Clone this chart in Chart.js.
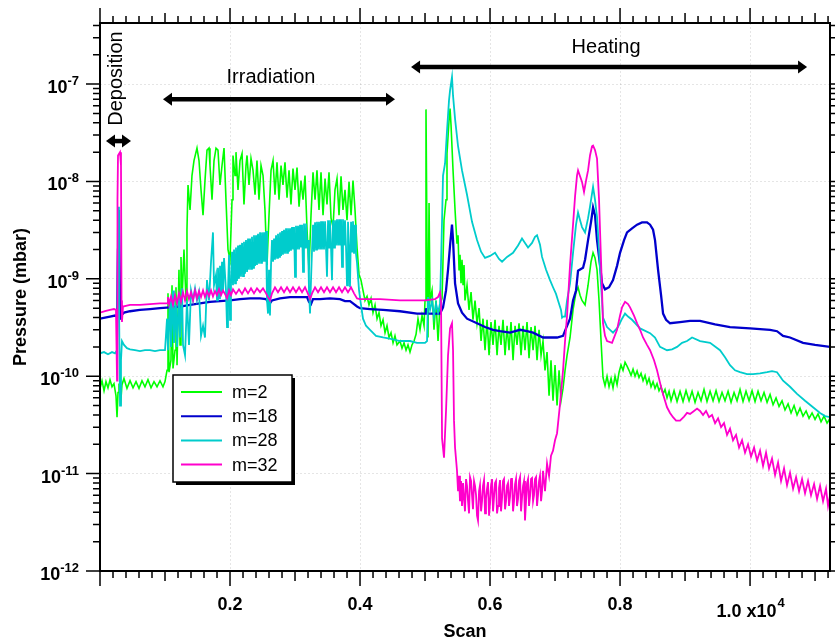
<!DOCTYPE html>
<html><head><meta charset="utf-8">
<script src="https://cdn.jsdelivr.net/npm/chart.js@4.4.0/dist/chart.umd.min.js"></script>
<style>html,body{margin:0;padding:0;background:#fff;}#wrap{width:835px;height:641px;position:relative;}</style>
</head><body><div id="wrap"><canvas id="c"></canvas></div>
<script>
// ---- data: [scan, pressure (mbar)] ----
const m2 = [[0,7.5e-11],[31,9.0e-11],[62,7.1e-11],[92,8.8e-11],[123,7.6e-11],[154,9.2e-11],[185,7.8e-11],[215,8.4e-11],[246,6.3e-11],[262,3.8e-11],[277,6.8e-11],[292,8.4e-11],[323,5.9e-11],[338,8.2e-11],[369,9.5e-11],[415,7.5e-11],[462,9.0e-11],[508,7.6e-11],[554,8.8e-11],[600,7.5e-11],[646,9.0e-11],[692,7.8e-11],[738,9.2e-11],[785,7.6e-11],[831,8.8e-11],[877,7.8e-11],[923,9.0e-11],[969,7.8e-11],[1000,8.8e-11],
[1031,1.15e-10],[1046,7.1e-10],[1062,1.1e-10],[1092,1.46e-10],[1108,8.6e-10],[1123,1.2e-10],[1154,1.85e-10],[1169,8.2e-10],[1185,1.3e-10],[1215,1.24e-9],[1231,2.1e-10],[1246,1.68e-9],[1262,6.0e-10],[1292,2.0e-9],[1323,6.0e-10],[1338,3.2e-9],[1354,9.2e-9],[1385,5.1e-9],[1415,1.15e-8],[1446,1.64e-8],[1492,2.2e-8],[1523,1.64e-8],[1554,8.2e-9],[1585,4.5e-9],[1615,1.02e-8],[1646,2.1e-8],[1677,2.2e-8],[1692,1.46e-8],[1723,6.5e-9],[1754,1.64e-8],[1785,2.2e-8],[1815,2.1e-8],[1846,9.2e-9],[1877,1.46e-8],[1908,2.2e-8],[1938,6.5e-9],[1969,2.0e-9],[2000,1.57e-9],[2031,6.5e-9],[2046,1.85e-8],[2077,1.15e-8],[2092,2.0e-8],[2123,8.2e-9],[2154,1.64e-8],[2185,1.94e-8],[2215,5.8e-9],[2246,1.46e-8],[2262,1.85e-8],[2292,9.2e-9],[2323,1.72e-8],[2354,1.3e-8],[2385,7.3e-9],[2415,1.64e-8],[2446,6.5e-9],[2477,1.46e-8],[2508,1.15e-8],[2538,5.1e-9],[2569,1.39e-9],[2600,4.5e-9],[2631,1.3e-8],[2662,1.64e-8],[2692,7.3e-9],[2723,1.57e-8],[2754,6.5e-9],[2785,1.46e-8],[2815,9.2e-9],[2846,1.57e-8],[2877,6.8e-9],[2908,1.3e-8],[2938,5.8e-9],[2969,1.36e-8],[3000,8.2e-9],[3031,1.39e-8],[3062,5.5e-9],[3092,1.02e-8],[3123,6.5e-9],[3154,1.15e-8],[3185,3.2e-9],[3215,1.24e-9],[3246,4.5e-9],[3277,1.24e-8],[3308,6.5e-9],[3338,1.3e-8],[3369,5.1e-9],[3400,1.24e-8],[3431,4.5e-9],[3462,1.07e-8],[3492,5.8e-9],[3523,1.24e-8],[3554,4.2e-9],[3585,3.4e-9],[3615,8.2e-9],[3646,1.07e-8],[3677,4.5e-9],[3708,1.13e-8],[3738,5.1e-9],[3769,8.2e-9],[3800,4.0e-9],[3831,9.9e-9],[3862,4.5e-9],[3892,1.02e-8],[3923,5.1e-9],[3954,2.1e-9],[3985,1.1e-9],
[4015,9.7e-10],[4046,7.6e-10],[4077,6.0e-10],[4108,6.6e-10],[4138,5.4e-10],[4169,6.3e-10],[4200,4.5e-10],[4231,5.4e-10],[4262,3.9e-10],[4292,4.5e-10],[4323,3.3e-10],[4354,3.8e-10],[4385,2.8e-10],[4415,3.3e-10],[4446,2.5e-10],[4477,2.8e-10],[4508,2.2e-10],[4538,2.6e-10],[4569,2.1e-10],[4615,2.3e-10],[4646,1.94e-10],[4677,2.2e-10],[4708,1.85e-10],[4738,2.1e-10],[4769,1.77e-10],[4800,2.1e-10],[4831,2.3e-10],[4862,2.7e-10],[4892,3.9e-10],[4923,3.0e-10],[4954,4.2e-10],[4985,3.3e-10],[5000,6.0e-10],[5015,5.5e-8],[5031,2.0e-9],[5046,2.5e-10],[5062,6.0e-9],[5077,6.0e-10],[5108,7.6e-10],[5138,3.0e-10],[5169,6.0e-10],[5200,2.3e-10],[5231,5.4e-10],[5262,6.3e-10],[5292,4.0e-9],[5323,6.5e-9],[5338,1.94e-8],[5369,4.2e-8],[5385,5.6e-8],[5400,3.8e-8],[5431,1.3e-8],[5462,5.1e-9],[5492,2.3e-9],[5508,2.8e-9],[5523,1.24e-9],[5538,1.77e-9],[5554,9.0e-10],[5569,1.57e-9],[5585,8.6e-10],[5600,1.39e-9],[5615,6.0e-10],[5646,8.6e-10],[5677,4.8e-10],[5708,7.3e-10],[5738,3.8e-10],[5769,6.0e-10],[5800,3.5e-10],[5831,5.0e-10],[5862,2.3e-10],[5892,3.9e-10],[5923,1.85e-10],[5954,3.8e-10],[5985,1.64e-10],[6015,3.6e-10],[6046,2.1e-10],[6077,3.8e-10],[6108,1.64e-10],[6138,3.3e-10],[6169,2.1e-10],[6200,3.8e-10],[6231,1.64e-10],[6262,3.3e-10],[6292,1.85e-10],[6323,3.6e-10],[6354,1.46e-10],[6385,3.3e-10],[6415,2.1e-10],[6446,3.5e-10],[6477,1.64e-10],[6508,3.3e-10],[6538,1.85e-10],[6569,3.6e-10],[6600,1.53e-10],[6631,3.2e-10],[6662,1.85e-10],[6692,3.3e-10],[6723,1.46e-10],[6754,3.0e-10],[6785,1.64e-10],[6815,2.3e-10],[6846,1.15e-10],[6877,1.77e-10],[6908,6.3e-11],[6938,1.46e-10],[6969,5.6e-11],[7000,1.3e-10],[7031,5.0e-11],[7062,1.15e-10],[7092,5.6e-11],[7123,7.5e-11],[7154,1.15e-10],[7185,1.64e-10],[7231,2.5e-10],[7277,4.8e-10],[7323,7.3e-10],[7354,8.2e-10],[7385,6.8e-10],[7415,6.0e-10],[7462,5.4e-10],[7508,8.6e-10],[7554,1.5e-9],[7585,1.85e-9],[7615,1.64e-9],[7646,1.24e-9],[7677,6.0e-10],[7708,2.3e-10],
[7738,9.7e-11],[7769,8.0e-11],[7800,1.0e-10],[7831,7.8e-11],[7862,9.5e-11],[7892,7.6e-11],[7923,1.0e-10],[7954,8.2e-11],[7985,1.1e-10],[8015,1.3e-10],[8046,1.15e-10],[8077,1.39e-10],[8108,1.27e-10],[8138,1.15e-10],[8169,1.02e-10],[8200,1.18e-10],[8231,1.0e-10],[8262,1.13e-10],[8292,9.7e-11],[8323,1.07e-10],[8354,9.0e-11],[8385,1.02e-10],[8415,8.4e-11],[8446,9.5e-11],[8477,7.8e-11],[8508,8.8e-11],[8538,7.5e-11],[8569,8.4e-11],[8600,7.1e-11],[8631,7.8e-11],[8662,6.6e-11],[8692,7.3e-11],[8723,6.0e-11],[8754,7.0e-11],[8785,5.6e-11],[8831,7.1e-11],[8877,5.5e-11],[8923,7.0e-11],[8969,5.5e-11],[9015,7.1e-11],[9062,5.6e-11],[9108,7.0e-11],[9154,5.4e-11],[9200,6.8e-11],[9246,5.6e-11],[9292,7.3e-11],[9338,5.5e-11],[9385,7.0e-11],[9431,5.6e-11],[9477,7.1e-11],[9523,5.5e-11],[9569,6.8e-11],[9615,5.6e-11],[9662,7.0e-11],[9708,5.4e-11],[9754,6.8e-11],[9800,5.6e-11],[9846,7.3e-11],[9892,5.5e-11],[9938,7.0e-11],[9985,5.6e-11],[10031,7.1e-11],[10077,5.5e-11],[10123,7.0e-11],[10169,5.6e-11],[10215,6.8e-11],[10262,5.4e-11],[10308,6.5e-11],[10354,5.1e-11],[10400,6.0e-11],[10446,4.9e-11],[10492,5.6e-11],[10538,4.5e-11],[10585,5.2e-11],[10631,4.2e-11],[10677,5.0e-11],[10723,4.0e-11],[10769,4.7e-11],[10815,3.9e-11],[10862,4.4e-11],[10908,3.7e-11],[10954,4.2e-11],[11000,3.6e-11],[11046,4.1e-11],[11092,3.4e-11],[11138,3.9e-11],[11185,3.3e-11],[11231,3.7e-11]];

const m18 = [[0,3.9e-10],[77,4.0e-10],[154,4.1e-10],[231,4.2e-10],[262,4.1e-10],[277,2.0e-9],[292,5.1e-9],[308,6.0e-10],[323,3.8e-10],[338,4.3e-10],[369,4.5e-10],[462,4.65e-10],[615,4.8e-10],[769,4.9e-10],[923,5.0e-10],[1077,5.1e-10],[1231,5.2e-10],[1385,5.4e-10],[1538,5.6e-10],[1692,5.8e-10],[1846,5.9e-10],[2000,6.0e-10],[2154,6.2e-10],[2308,6.3e-10],[2462,6.3e-10],[2554,6.2e-10],[2585,5.8e-10],[2615,5.6e-10],[2646,6.0e-10],[2769,6.3e-10],[2923,6.5e-10],[3077,6.5e-10],[3185,6.5e-10],[3215,5.8e-10],[3246,5.5e-10],[3277,6.2e-10],[3385,6.2e-10],[3538,6.3e-10],[3692,6.2e-10],[3769,5.9e-10],[3846,5.9e-10],[3892,5.6e-10],[3954,5.2e-10],[4000,5.0e-10],[4154,4.9e-10],[4354,4.8e-10],[4615,4.65e-10],[4877,4.4e-10],[5000,4.4e-10],[5015,5.0e-10],[5031,4.4e-10],[5077,4.4e-10],[5231,4.4e-10],[5277,5.1e-10],[5323,7.6e-10],[5354,1.24e-9],[5385,2.2e-9],[5415,3.6e-9],[5431,2.5e-9],[5462,9.0e-10],[5508,5.6e-10],[5569,4.5e-10],[5646,3.9e-10],[5800,3.5e-10],[5923,3.2e-10],[6046,3.0e-10],[6154,2.9e-10],[6308,2.8e-10],[6462,3.0e-10],[6569,2.9e-10],[6662,2.8e-10],[6815,2.5e-10],[6923,2.5e-10],[7031,2.5e-10],[7123,2.6e-10],[7169,3.1e-10],[7231,3.9e-10],[7277,6.0e-10],[7323,7.6e-10],[7354,1.21e-9],[7431,1.3e-9],[7462,1.57e-9],[7508,2.5e-9],[7554,3.85e-9],[7585,5.4e-9],[7615,4.5e-9],[7646,2.5e-9],[7692,1.39e-9],[7723,9.0e-10],[7769,7.8e-10],[7831,8.2e-10],[7892,9.7e-10],[7954,1.36e-9],[8000,1.85e-9],[8062,2.5e-9],[8108,3.0e-9],[8185,3.3e-9],[8262,3.6e-9],[8338,3.8e-9],[8415,3.8e-9],[8462,3.6e-9],[8508,3.2e-9],[8538,2.5e-9],[8585,1.24e-9],[8631,6.8e-10],[8662,4.4e-10],[8708,3.8e-10],[8769,3.5e-10],[8923,3.6e-10],[9077,3.7e-10],[9231,3.7e-10],[9462,3.4e-10],[9692,3.2e-10],[10000,3.1e-10],[10308,3.0e-10],[10415,2.9e-10],[10508,2.6e-10],[10615,2.5e-10],[10815,2.2e-10],[11000,2.1e-10],[11231,2.0e-10]];

const m28 = [[0,1.72e-10],[62,1.77e-10],[123,1.68e-10],[185,1.77e-10],[231,1.72e-10],[262,1.85e-10],[277,5.5e-9],[292,6.0e-10],[308,5.0e-11],[323,1.46e-10],[338,2.3e-10],[369,2.1e-10],[415,1.94e-10],[462,1.89e-10],[538,1.85e-10],[615,1.81e-10],[692,1.85e-10],[769,1.85e-10],[846,1.81e-10],[923,1.85e-10],[1000,1.85e-10],
[1031,3.9e-10],[1046,1.85e-10],[1077,6.0e-10],[1092,2.0e-10],[1123,7.6e-10],[1138,2.2e-10],[1169,5.4e-10],[1185,2.0e-10],[1215,7.3e-10],[1231,2.5e-10],[1262,8.0e-10],[1277,2.1e-10],[1308,1.64e-10],[1338,6.0e-10],[1369,2.1e-10],[1400,7.6e-10],[1431,6.0e-10],[1462,8.0e-10],[1492,6.0e-10],[1523,7.3e-10],[1554,2.6e-10],[1585,3.3e-10],[1615,2.5e-10],[1646,9.7e-10],[1677,6.0e-10],[1708,1.5e-9],[1738,3.0e-9],[1754,8.6e-10],[1785,1.1e-9],[1800,6.0e-10],[1815,1.3e-9],[1831,6.3e-10],[1846,1.36e-9],[1862,6.8e-10],[1877,1.5e-9],[1892,7.3e-10],[1908,1.64e-9],[1938,7.6e-10],[1954,3.2e-10],[1969,7.6e-10],[1985,1.77e-9],[2000,3.8e-10],[2015,8.4e-10],[2031,1.9e-9],[2046,8.6e-10],[2062,2.0e-9],[2077,9.0e-10],[2092,2.1e-9],[2108,9.5e-10],[2123,2.2e-9],[2138,1.0e-9],[2154,2.24e-9],[2169,1.05e-9],[2185,2.34e-9],[2200,1.07e-9],[2215,2.4e-9],[2231,1.13e-9],[2246,2.5e-9],[2262,1.18e-9],[2277,2.6e-9],[2292,1.24e-9],[2308,2.6e-9],[2323,1.27e-9],[2338,2.7e-9],[2354,1.3e-9],[2369,2.8e-9],[2385,1.36e-9],[2400,2.8e-9],[2415,1.39e-9],[2431,2.9e-9],[2446,1.43e-9],[2462,3.0e-9],[2477,1.46e-9],[2492,3.0e-9],[2508,1.5e-9],[2523,3.0e-9],[2538,1.5e-9],[2554,3.1e-9],[2569,6.0e-10],[2585,4.4e-10],[2600,1.24e-9],[2615,4.2e-10],[2631,1.39e-9],[2646,2.5e-9],[2662,1.5e-9],[2677,2.6e-9],[2692,1.57e-9],[2708,2.8e-9],[2723,1.64e-9],[2738,2.9e-9],[2754,1.68e-9],[2769,3.0e-9],[2785,1.72e-9],[2800,3.1e-9],[2815,1.77e-9],[2831,3.2e-9],[2846,1.81e-9],[2862,3.3e-9],[2877,1.85e-9],[2892,3.3e-9],[2908,1.9e-9],[2923,3.3e-9],[2938,1.94e-9],[2954,3.4e-9],[2969,2.0e-9],[2985,3.4e-9],[3000,1.05e-9],[3015,3.5e-9],[3031,2.0e-9],[3046,3.5e-9],[3062,2.0e-9],[3077,3.6e-9],[3092,2.1e-9],[3108,3.6e-9],[3123,1.18e-9],[3138,3.7e-9],[3154,2.1e-9],[3169,3.7e-9],[3185,2.1e-9],[3200,2.5e-9],[3215,7.6e-10],[3231,4.4e-10],[3246,9.7e-10],[3262,2.0e-9],[3277,3.6e-9],[3292,1.9e-9],[3308,3.8e-9],[3323,2.0e-9],[3338,3.85e-9],[3354,2.0e-9],[3369,3.85e-9],[3385,2.0e-9],[3400,3.9e-9],[3415,2.0e-9],[3431,3.9e-9],[3446,2.0e-9],[3462,3.9e-9],[3477,2.1e-9],[3492,1.05e-9],[3508,4.0e-9],[3523,2.1e-9],[3538,4.0e-9],[3554,2.1e-9],[3569,9.7e-10],[3585,4.0e-9],[3600,2.1e-9],[3615,4.0e-9],[3631,2.2e-9],[3646,4.1e-9],[3662,2.2e-9],[3677,4.1e-9],[3692,2.2e-9],[3708,4.1e-9],[3723,1.33e-9],[3738,4.1e-9],[3754,2.2e-9],[3769,4.0e-9],[3785,2.1e-9],[3800,8.6e-10],[3815,3.85e-9],[3831,2.0e-9],[3846,8.2e-10],[3862,3.85e-9],[3877,1.9e-9],[3892,3.9e-9],[3908,1.81e-9],[3923,3.6e-9],[3938,1.81e-9],[3954,1.46e-9],[3985,7.6e-10],[4015,5.4e-10],[4046,3.9e-10],[4092,3.3e-10],[4154,3.0e-10],[4246,2.6e-10],[4354,2.5e-10],[4492,2.4e-10],[4615,2.3e-10],[4769,2.3e-10],[4877,2.2e-10],[5000,2.2e-10],[5031,2.3e-10],[5046,6.5e-10],[5077,4.8e-10],[5108,6.0e-10],[5138,4.1e-10],[5169,5.6e-10],[5200,4.5e-10],[5231,5.6e-10],[5262,4.0e-9],[5277,1.15e-8],[5308,1.53e-8],[5338,3.3e-8],[5369,6.8e-8],[5385,8.6e-8],[5415,1.18e-7],[5431,7.6e-8],[5462,4.4e-8],[5508,2.3e-8],[5569,1.3e-8],[5646,7.3e-9],[5723,3.85e-9],[5800,2.5e-9],[5862,1.9e-9],[5923,1.64e-9],[6000,1.72e-9],[6077,1.85e-9],[6138,1.6e-9],[6185,1.5e-9],[6262,1.68e-9],[6354,1.85e-9],[6431,2.2e-9],[6492,2.6e-9],[6538,2.34e-9],[6585,2.1e-9],[6646,2.34e-9],[6692,2.7e-9],[6723,2.8e-9],[6769,2.24e-9],[6800,1.68e-9],[6862,1.24e-9],[6923,9.7e-10],[6969,8.2e-10],[7015,7.0e-10],[7046,6.0e-10],[7092,4.8e-10],[7108,4.0e-10],[7123,4.1e-10],[7154,4.1e-10],[7185,6.0e-10],[7231,9.0e-10],[7277,1.85e-9],[7323,3.6e-9],[7354,4.8e-9],[7385,4.0e-9],[7415,3.4e-9],[7462,3.0e-9],[7508,4.2e-9],[7538,5.5e-9],[7585,8.8e-9],[7615,6.5e-9],[7646,4.3e-9],[7677,2.0e-9],[7692,1.24e-9],[7723,6.0e-10],[7738,4.0e-10],[7800,3.2e-10],[7892,2.8e-10],[7969,3.2e-10],[8031,3.9e-10],[8077,4.4e-10],[8123,4.1e-10],[8185,3.8e-10],[8308,3.1e-10],[8462,2.77e-10],[8538,2.5e-10],[8615,2.0e-10],[8723,1.85e-10],[8800,1.89e-10],[8877,2.0e-10],[8954,2.2e-10],[9031,2.3e-10],[9108,2.5e-10],[9231,2.3e-10],[9385,2.2e-10],[9538,1.85e-10],[9615,1.57e-10],[9692,1.3e-10],[9769,1.15e-10],[9846,1.1e-10],[9954,1.05e-10],[10046,1.05e-10],[10154,1.07e-10],[10262,1.1e-10],[10338,1.13e-10],[10415,1.1e-10],[10508,9.0e-11],[10615,7.8e-11],[10723,6.6e-11],[10846,5.6e-11],[10969,4.8e-11],[11077,4.2e-11],[11154,3.9e-11],[11231,3.8e-11]];

const m32 = [[0,4.5e-10],[77,4.65e-10],[154,4.8e-10],[215,4.9e-10],[246,4.8e-10],[262,9.0e-11],[269,6.5e-9],[277,1.85e-8],[308,2.0e-8],[323,1.46e-8],[331,6.0e-10],[338,3.6e-10],[354,5.2e-10],[462,5.4e-10],[615,5.4e-10],[769,5.5e-10],[923,5.6e-10],[1031,5.6e-10],[1046,6.5e-10],[1062,5.5e-10],[1092,6.6e-10],[1123,5.4e-10],[1154,6.8e-10],[1185,5.6e-10],[1215,7.1e-10],[1246,5.8e-10],[1277,7.3e-10],[1308,6.0e-10],[1338,7.5e-10],[1369,6.2e-10],[1400,7.3e-10],[1431,6.0e-10],[1462,7.6e-10],[1492,6.3e-10],[1523,7.5e-10],[1554,6.5e-10],[1585,7.6e-10],[1615,6.5e-10],[1646,7.5e-10],[1677,6.6e-10],[1708,7.6e-10],[1738,6.6e-10],[1769,7.5e-10],[1800,6.8e-10],[1831,7.8e-10],[1862,6.8e-10],[1892,7.6e-10],[1923,7.0e-10],[1954,6.3e-10],[1985,7.6e-10],[2015,6.8e-10],[2046,7.8e-10],[2092,7.0e-10],[2138,7.8e-10],[2185,7.0e-10],[2231,8.0e-10],[2277,7.1e-10],[2323,8.0e-10],[2369,7.1e-10],[2415,8.0e-10],[2462,7.3e-10],[2508,8.0e-10],[2554,7.1e-10],[2585,6.5e-10],[2615,6.0e-10],[2646,7.1e-10],[2692,8.2e-10],[2738,7.3e-10],[2785,8.2e-10],[2831,7.3e-10],[2877,8.2e-10],[2923,7.3e-10],[2969,8.2e-10],[3015,7.3e-10],[3062,8.2e-10],[3108,7.3e-10],[3154,8.2e-10],[3200,7.0e-10],[3231,6.2e-10],[3262,7.1e-10],[3308,8.2e-10],[3354,7.3e-10],[3400,8.2e-10],[3446,7.3e-10],[3492,8.2e-10],[3538,7.3e-10],[3585,8.2e-10],[3631,7.3e-10],[3677,8.2e-10],[3723,7.3e-10],[3769,8.2e-10],[3815,7.3e-10],[3862,8.2e-10],[3908,7.1e-10],[3954,6.3e-10],[4000,6.2e-10],[4308,6.2e-10],[4615,6.0e-10],[5000,6.0e-10],[5154,6.2e-10],[5200,6.5e-10],[5231,7.3e-10],[5246,6.0e-10],[5262,2.3e-11],[5292,1.46e-11],[5323,4.4e-11],[5354,1.64e-10],[5385,3.1e-10],[5415,3.5e-10],[5431,1.85e-10],[5446,3.5e-11],[5462,1.85e-11],[5492,1.07e-11],[5508,6.6e-12],[5523,9.5e-12],[5538,5.2e-12],[5554,8.4e-12],[5569,4.65e-12],[5585,8.0e-12],[5600,5.6e-12],[5615,4.1e-12],[5631,8.8e-12],[5646,7.5e-12],[5662,5.2e-12],[5677,3.9e-12],[5692,9.2e-12],[5708,8.4e-12],[5723,6.0e-12],[5738,4.3e-12],[5754,8.4e-12],[5769,7.5e-12],[5785,6.0e-12],[5800,3.7e-12],[5815,3.3e-12],[5831,6.6e-12],[5846,7.6e-12],[5862,4.1e-12],[5877,5.2e-12],[5892,7.5e-12],[5908,8.6e-12],[5923,3.9e-12],[5938,5.5e-12],[5954,7.0e-12],[5969,8.2e-12],[5985,3.7e-12],[6000,4.9e-12],[6015,7.5e-12],[6031,8.8e-12],[6046,4.1e-12],[6062,5.8e-12],[6077,8.0e-12],[6092,8.4e-12],[6108,3.9e-12],[6123,4.65e-12],[6138,7.1e-12],[6154,8.6e-12],[6169,4.1e-12],[6185,5.6e-12],[6200,8.4e-12],[6215,8.8e-12],[6231,4.3e-12],[6246,5.2e-12],[6262,7.5e-12],[6277,8.0e-12],[6292,4.65e-12],[6308,5.8e-12],[6323,8.8e-12],[6338,9.0e-12],[6354,4.1e-12],[6369,5.2e-12],[6385,7.8e-12],[6400,8.8e-12],[6415,4.65e-12],[6431,5.5e-12],[6446,8.4e-12],[6462,9.2e-12],[6477,4.1e-12],[6492,5.6e-12],[6508,7.5e-12],[6523,8.4e-12],[6538,3.3e-12],[6554,5.2e-12],[6569,8.0e-12],[6585,8.8e-12],[6600,4.65e-12],[6615,5.8e-12],[6631,8.8e-12],[6646,9.0e-12],[6662,5.2e-12],[6677,6.0e-12],[6692,8.8e-12],[6708,9.2e-12],[6723,4.65e-12],[6738,6.0e-12],[6754,8.4e-12],[6769,9.5e-12],[6785,5.2e-12],[6800,6.6e-12],[6815,1.07e-11],[6846,6.6e-12],[6877,1.27e-11],[6908,9.5e-12],[6938,1.53e-11],[6969,1.72e-11],[7000,2.2e-11],[7031,2.6e-11],[7077,5.2e-11],[7123,1.15e-10],[7154,2.3e-10],[7185,4.2e-10],[7231,1.39e-9],[7277,3.6e-9],[7308,7.0e-9],[7338,1.15e-8],[7354,1.3e-8],[7385,1.13e-8],[7415,9.9e-9],[7446,7.8e-9],[7477,1.02e-8],[7508,1.3e-8],[7538,1.85e-8],[7569,2.3e-8],[7585,2.34e-8],[7615,2.1e-8],[7646,1.72e-8],[7677,6.5e-9],[7692,3.2e-9],[7723,7.6e-10],[7738,3.5e-10],[7769,2.6e-10],[7800,2.3e-10],[7877,2.2e-10],[7954,3.0e-10],[8000,4.2e-10],[8031,5.1e-10],[8077,5.8e-10],[8123,5.5e-10],[8154,5.1e-10],[8215,4.2e-10],[8262,3.5e-10],[8308,3.0e-10],[8354,2.5e-10],[8415,2.1e-10],[8462,1.85e-10],[8523,1.46e-10],[8569,1.15e-10],[8615,8.6e-11],[8646,7.1e-11],[8692,5.6e-11],[8723,4.8e-11],[8769,4.2e-11],[8815,3.8e-11],[8862,3.5e-11],[8923,3.5e-11],[8985,3.85e-11],[9031,4.2e-11],[9077,4.1e-11],[9138,4.4e-11],[9185,4.65e-11],[9231,4.4e-11],[9277,4.0e-11],[9323,4.4e-11],[9369,3.8e-11],[9415,4.0e-11],[9462,3.3e-11],[9508,3.7e-11],[9554,3.0e-11],[9600,3.3e-11],[9646,2.5e-11],[9692,2.9e-11],[9738,2.2e-11],[9785,2.5e-11],[9831,1.85e-11],[9877,2.2e-11],[9923,1.64e-11],[9969,2.0e-11],[10015,1.5e-11],[10062,1.85e-11],[10108,1.36e-11],[10154,1.72e-11],[10200,1.2e-11],[10246,1.64e-11],[10292,1.13e-11],[10338,1.43e-11],[10385,9.7e-12],[10431,1.3e-11],[10477,8.4e-12],[10523,1.13e-11],[10569,7.6e-12],[10615,1.02e-11],[10662,7.0e-12],[10708,9.2e-12],[10754,6.6e-12],[10800,8.8e-12],[10846,6.3e-12],[10892,8.4e-12],[10938,6.0e-12],[10985,7.8e-12],[11031,5.5e-12],[11077,7.5e-12],[11123,5.2e-12],[11169,7.0e-12],[11200,4.65e-12],[11231,6.0e-12]];

const seriesLabels = ['m=2','m=18','m=28','m=32'];
const xTickValues = [2000,4000,6000,8000,10000];
const xTickLabels = ['0.2','0.4','0.6','0.8','1.0'];
const yTickValues = [1e-12,1e-11,1e-10,1e-9,1e-8,1e-7];
const yTickExponents = ['-12','-11','-10','-9','-8','-7'];
const xRange = [0, 11230];
const yRange = [1e-12, 4.24e-7];

// ---- styling / drawing ----
const FONT = '"Liberation Sans", Arial, Helvetica, sans-serif';
const colors = ['#00ff00','#0000cc','#00cccc','#ff00cc'];
const widths = [1.6,2.3,1.8,1.8];

const annotations = [
  {kind:'arrow', x1:92, x2:477, y:2.6e-8},
  {kind:'vtext', text:'Deposition', x:338, y:1.14e-7},
  {kind:'arrow', x1:969, x2:4538, y:7.0e-8},
  {kind:'text', text:'Irradiation', x:2631, y:1.02e-7},
  {kind:'arrow', x1:4785, x2:10877, y:1.5e-7},
  {kind:'text', text:'Heating', x:7785, y:2.08e-7}
];

function drawArrow(ctx, x1, x2, y){
  const hl = 9, hw = 6.5;
  ctx.lineWidth = 4.5;
  ctx.beginPath(); ctx.moveTo(x1 + hl - 1, y); ctx.lineTo(x2 - hl + 1, y); ctx.stroke();
  ctx.beginPath(); ctx.moveTo(x1, y); ctx.lineTo(x1 + hl, y - hw); ctx.lineTo(x1 + hl, y + hw); ctx.closePath(); ctx.fill();
  ctx.beginPath(); ctx.moveTo(x2, y); ctx.lineTo(x2 - hl, y - hw); ctx.lineTo(x2 - hl, y + hw); ctx.closePath(); ctx.fill();
}

const igorFrame = {
  id: 'igorFrame',
  afterDraw(chart){
    const ctx = chart.ctx, ca = chart.chartArea, xs = chart.scales.x, ys = chart.scales.y;
    ctx.save();
    ctx.strokeStyle = '#000'; ctx.fillStyle = '#000';
    ctx.lineWidth = 2;
    ctx.strokeRect(ca.left, ca.top, ca.right - ca.left, ca.bottom - ca.top);
    ctx.lineWidth = 1.5;
    ctx.beginPath();
    for (let v = 0; v <= xs.max; v += 200){
      const px = xs.getPixelForValue(v);
      const len = (v % 2000 === 0) ? 15 : (v % 1000 === 0 ? 10 : 7);
      ctx.moveTo(px, ca.bottom); ctx.lineTo(px, ca.bottom + len);
      ctx.moveTo(px, ca.top); ctx.lineTo(px, ca.top - len);
    }
    for (let e = -12; e <= -7; e++){
      for (let k = 1; k <= 9; k++){
        const v = k * Math.pow(10, e);
        if (v > ys.max * 1.0001) break;
        const py = ys.getPixelForValue(v);
        const len = k === 1 ? 14 : 7;
        ctx.moveTo(ca.left - len, py); ctx.lineTo(ca.left, py);
        ctx.moveTo(ca.right, py); ctx.lineTo(ca.right + len, py);
      }
    }
    ctx.stroke();
    ctx.textAlign = 'left'; ctx.textBaseline = 'alphabetic';
    yTickValues.forEach((v, i) => {
      const py = ys.getPixelForValue(v);
      ctx.font = 'bold 13px ' + FONT;
      const sw = ctx.measureText(yTickExponents[i]).width;
      ctx.font = 'bold 18px ' + FONT;
      const bw = ctx.measureText('10').width;
      const right = ca.left - 21;
      ctx.fillText('10', right - sw - bw, py + 9);
      ctx.font = 'bold 13px ' + FONT;
      ctx.fillText(yTickExponents[i], right - sw, py + 1);
    });
    xTickValues.forEach((v, i) => {
      const px = xs.getPixelForValue(v);
      if (i === xTickValues.length - 1){
        ctx.font = 'bold 18px ' + FONT;
        const main = xTickLabels[i] + ' x10';
        const mw = ctx.measureText(main).width;
        ctx.font = 'bold 13px ' + FONT;
        const sw = ctx.measureText('4').width;
        const x0 = px - (mw + sw) / 2;
        ctx.font = 'bold 18px ' + FONT;
        ctx.fillText(main, x0, ca.bottom + 46);
        ctx.font = 'bold 13px ' + FONT;
        ctx.fillText('4', x0 + mw + 1, ca.bottom + 36);
      } else {
        ctx.font = 'bold 18px ' + FONT;
        ctx.textAlign = 'center';
        ctx.fillText(xTickLabels[i], px, ca.bottom + 39);
        ctx.textAlign = 'left';
      }
    });
    ctx.font = 'bold 18px ' + FONT;
    ctx.textAlign = 'center';
    ctx.fillText('Scan', (ca.left + ca.right) / 2, ca.bottom + 66);
    ctx.save();
    ctx.translate(25.5, (ca.top + ca.bottom) / 2);
    ctx.rotate(-Math.PI / 2);
    ctx.fillText('Pressure (mbar)', 0, 0);
    ctx.restore();
    ctx.font = '20px ' + FONT;
    annotations.forEach(a => {
      if (a.kind === 'arrow'){
        drawArrow(ctx, xs.getPixelForValue(a.x1), xs.getPixelForValue(a.x2), ys.getPixelForValue(a.y));
      } else if (a.kind === 'text'){
        ctx.textAlign = 'center';
        ctx.fillText(a.text, xs.getPixelForValue(a.x), ys.getPixelForValue(a.y));
      } else {
        ctx.save();
        ctx.translate(xs.getPixelForValue(a.x), ys.getPixelForValue(a.y));
        ctx.rotate(-Math.PI / 2);
        ctx.textAlign = 'center';
        ctx.fillText(a.text, 0, 0);
        ctx.restore();
      }
    });
    const L = ca.left + 73, T = ca.top + 352, W = 119, H = 107;
    ctx.fillStyle = '#000'; ctx.fillRect(L + 3, T + 3, W, H);
    ctx.fillStyle = '#fff'; ctx.fillRect(L, T, W, H);
    ctx.lineWidth = 1.5; ctx.strokeStyle = '#000'; ctx.strokeRect(L, T, W, H);
    ctx.font = '18px ' + FONT; ctx.textAlign = 'left'; ctx.textBaseline = 'middle';
    chart.data.datasets.forEach((ds, i) => {
      const y = T + 17 + i * 24.2;
      ctx.strokeStyle = ds.borderColor; ctx.lineWidth = 2;
      ctx.beginPath(); ctx.moveTo(L + 8, y); ctx.lineTo(L + 49, y); ctx.stroke();
      ctx.fillStyle = '#000';
      ctx.fillText(ds.label, L + 59, y + 1);
    });
    ctx.restore();
  }
};

const series = [m2, m18, m28, m32];
const datasets = series.map((s, i) => ({
  label: seriesLabels[i],
  data: s.map(p => ({x: p[0], y: p[1]})),
  borderColor: colors[i],
  backgroundColor: colors[i],
  borderWidth: widths[i],
  pointRadius: 0,
  tension: 0,
  fill: false,
  order: 3 - i
}));

new Chart(document.getElementById('c'), {
  type: 'line',
  data: {datasets},
  options: {
    responsive: true,
    maintainAspectRatio: false,
    animation: false,
    events: [],
    layout: {padding: {left: 0, right: 5, top: 23, bottom: 0}},
    plugins: {legend: {display: false}, tooltip: {enabled: false}},
    scales: {
      x: {
        type: 'linear', min: xRange[0], max: xRange[1],
        grid: {color: 'rgba(0,0,0,0.10)', lineWidth: 1, drawTicks: false},
        border: {display: false, dash: [2, 2]},
        ticks: {display: false},
        afterBuildTicks(s){ s.ticks = xTickValues.map(v => ({value: v})); },
        afterFit(s){ s.height = 70; }
      },
      y: {
        type: 'logarithmic', min: yRange[0], max: yRange[1],
        grid: {color: 'rgba(0,0,0,0.10)', lineWidth: 1, drawTicks: false},
        border: {display: false, dash: [2, 2]},
        ticks: {display: false},
        afterBuildTicks(s){ s.ticks = yTickValues.map(v => ({value: v})); },
        afterFit(s){ s.width = 100; }
      }
    }
  },
  plugins: [igorFrame]
});
</script>
</body></html>
